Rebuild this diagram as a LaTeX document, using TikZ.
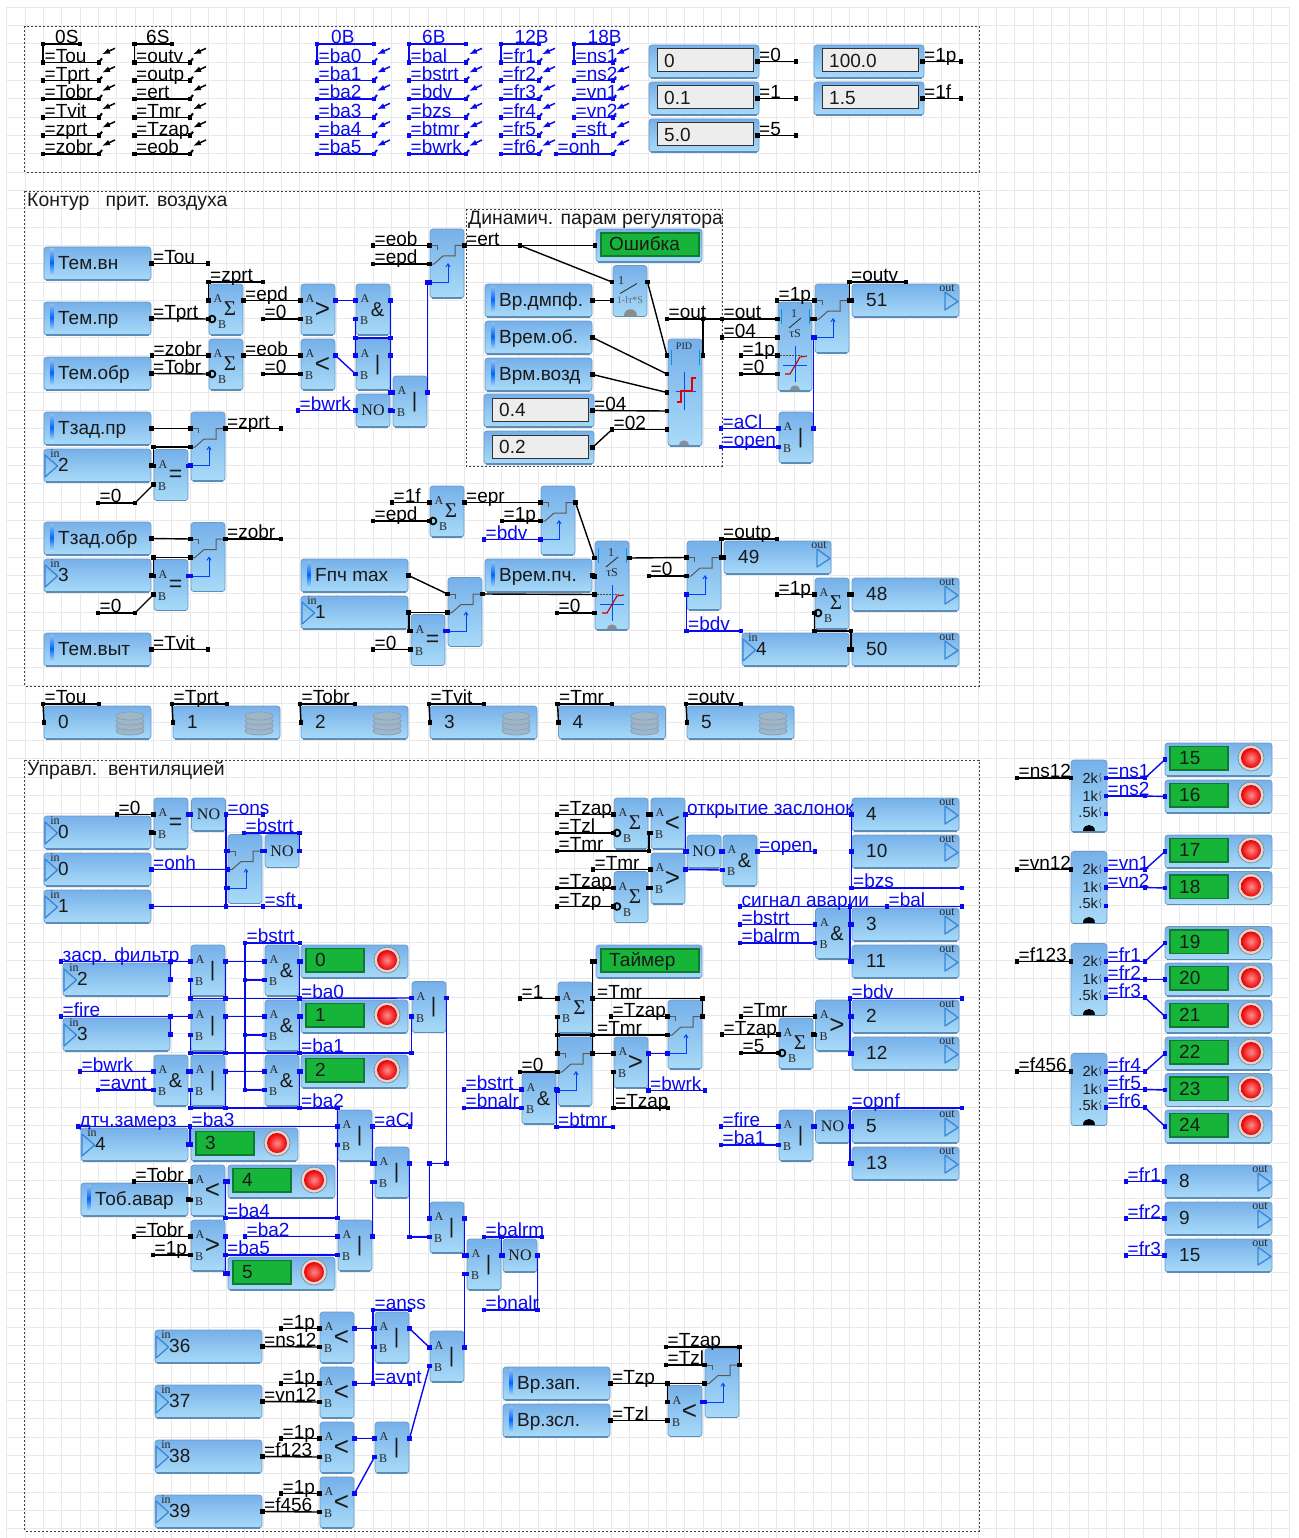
\documentclass[tikz,border=0pt]{standalone}
\usepackage{fontspec}
\setmainfont{Liberation Sans}
\newfontfamily\ser{Liberation Serif}
\usetikzlibrary{arrows.meta,calc}
\definecolor{blkT}{HTML}{76B0E9}
\definecolor{blkB}{HTML}{A9DBF8}
\definecolor{blkE}{HTML}{6A9CCB}
\definecolor{blkD}{HTML}{5C8DB8}
\definecolor{wb}{HTML}{0A0AF0}
\definecolor{grn}{HTML}{17B43A}
\definecolor{grnD}{HTML}{107A30}
\definecolor{tri}{HTML}{3A86D8}
\definecolor{gridc}{HTML}{E9E9E9}
\definecolor{dbF}{HTML}{9FB6C8}
\definecolor{dbE}{HTML}{85A0B5}
\newcounter{wn}
\newcommand\fs{\fontsize{19}{19}\selectfont}
\tikzset{
 gridl/.style={gridc,line width=1pt},
 frame/.style={draw=black!75,line width=.7pt,dash pattern=on 2pt off 2pt},
 blockbox/.style={rectangle,rounded corners=3pt,draw=blkE,line width=.8pt,top color=blkT,bottom color=blkB,anchor=north west,inner sep=0pt,outer sep=0pt},
 edgeb/.style={blkD,line width=1.3pt},
 kwire/.style={black,line width=1.4pt},
 bwire/.style={wb,line width=1.4pt},
 Kwire/.style={kwire},
 Bwire/.style={bwire},
 kd/.style={rectangle,fill=black,inner sep=0pt,minimum size=4.6pt},
 bd/.style={rectangle,fill=wb,inner sep=0pt,minimum size=4.6pt},
 kl/.style={font=\fs,text=black,inner sep=0pt,pos=0,anchor=base west,xshift=1pt,yshift=.3pt},
 bl/.style={font=\fs,text=wb,inner sep=0pt,pos=0,anchor=base west,xshift=1pt,yshift=.3pt},
 txt/.style={font=\fs,text=black!90,inner sep=0pt,anchor=base west},
 hdr/.style={font=\fontsize{19.4}{19.4}\selectfont,text=black!90,inner sep=0pt,anchor=base west},
 tiny/.style={font=\ser\fontsize{12}{12}\selectfont,text=black!85,inner sep=0pt},
 sym/.style={text=black!90,inner sep=0pt},
 tmark/.style={tri,line width=1.3pt,line join=round},
 swl/.style={black!65,line width=1pt},
 ctl/.style={blue!75!cyan,line width=.9pt},
}
% wires
\newcommand\Kw[2]{\draw[kwire] (#1) node[kd]{} -- (#2) node[kd]{};}
\newcommand\Bw[2]{\draw[bwire] (#1) node[bd]{} -- (#2) node[bd]{};}
\newcommand\KL[4][]{\stepcounter{wn}\draw[kwire] (#3) node[kd]{} -- node[kl,#1] (L\arabic{wn}) {#2} (#4) node[kd]{};}
\newcommand\BL[4][]{\stepcounter{wn}\draw[bwire] (#3) node[bd]{} -- node[bl,#1] (L\arabic{wn}) {#2} (#4) node[bd]{};}
\newcommand\KH[4][]{\KL[#1]{#2}{#3,0 |- #4}{#4}}
\newcommand\BH[4][]{\BL[#1]{#2}{#3,0 |- #4}{#4}}
\newcommand\KR[4][]{\KL[#1]{#2}{#3}{#4,0 |- #3}}
\newcommand\BR[4][]{\BL[#1]{#2}{#3}{#4,0 |- #3}}
% blocks
\newcommand\blockat[5]{%
 \node[blockbox,minimum width=#4pt,minimum height=#5pt] (#1) at (#2,#3) {};
 \draw[edgeb] (#2+2,#3+#5) -- (#2+#4-2,#3+#5);}
\newcommand\hump[4]{\fill[#3] (#1-#4,#2) .. controls (#1-#4,#2-1.3*#4) and (#1+#4,#2-1.3*#4) .. (#1+#4,#2) -- cycle;}
\newcommand\sSig{\ser\fontsize{21}{21}\selectfont Σ}
\newcommand\sLt{\fontsize{26}{26}\selectfont <}
\newcommand\sGt{\fontsize{26}{26}\selectfont >}
\newcommand\sEq{\fontsize{23}{23}\selectfont =}
\newcommand\sAmp{\fontsize{20}{20}\selectfont \&}
\newcommand\sOr{\fontsize{21}{21}\selectfont |}
\newcommand\gatebk[4]{%
 \blockat{#1}{#2}{#3}{34}{51}
 \coordinate (#1-A) at (#2-0.5,#3+16.5);
 \coordinate (#1-B) at (#2-0.5,#3+35);
 \coordinate (#1-O) at (#2+34.5,#3+16.5);
 \node[tiny] (#1-la) at (#2+9,#3+15) {A};
 \node[tiny] (#1-lb) at (#2+8,#3+37) {B};
 \node[sym] (#1-s) at (#2+21.5,#3+26) {#4};}
\newcommand\sumbk[3]{%
 \blockat{#1}{#2}{#3}{34}{51}
 \coordinate (#1-A) at (#2-0.5,#3+16.5);
 \coordinate (#1-B) at (#2-0.5,#3+35);
 \coordinate (#1-O) at (#2+34.5,#3+16.5);
 \node[tiny] (#1-la) at (#2+9,#3+15) {A};
 \node[tiny] (#1-lb) at (#2+13,#3+41) {B};
 \node[sym] (#1-s) at (#2+21,#3+25) {\sSig};
 \draw[black,line width=1.7pt] (#2+3,#3+35) circle[radius=3.4pt];}
\newcommand\noblk[3]{%
 \blockat{#1}{#2}{#3}{34}{33}
 \coordinate (#1-I) at (#2-0.5,#3+16.5);
 \coordinate (#1-O) at (#2+34.5,#3+16.5);
 \node[sym,font=\ser\fontsize{16}{16}\selectfont] (#1-s) at (#2+17,#3+16.5) {NO};}
\newcommand\swbk[3]{%
 \blockat{#1}{#2}{#3}{34}{69}
 \coordinate (#1-1) at (#2-0.5,#3+16.5);
 \coordinate (#1-2) at (#2-0.5,#3+35);
 \coordinate (#1-C) at (#2-0.5,#3+53.5);
 \coordinate (#1-O) at (#2+34.5,#3+16.5);
 \draw[swl] (#2+1,#3+16.5) -- (#2+7,#3+16.5) -- (#2+7,#3+21);
 \draw[swl] (#2+1,#3+35) -- (#2+4,#3+35) -- (#2+13,#3+27) -- (#2+25,#3+27) -- (#2+25,#3+16.5) -- (#2+33,#3+16.5);
 \draw[ctl,-{Straight Barb[length=3pt,width=4pt]}] (#2,#3+53.5) -- (#2+18,#3+53.5) -- (#2+18,#3+34);}
\newcommand\lngbk[4]{%
 \blockat{#1}{#2}{#3}{107}{33}
 \coordinate (#1-O) at (#2+107.5,#3+16.5);
 \shade[top color=blkT!80,bottom color=blkB!90,middle color=blue!60!cyan] (#2+6.5,#3+2) rectangle (#2+9.5,#3+29);
 \node[txt] (#1-t) at (#2+14,#3+22.7) {#4};}
\newcommand\inbk[4]{%
 \blockat{#1}{#2}{#3}{107}{33}
 \coordinate (#1-O) at (#2+107.5,#3+16.5);
 \draw[tmark] (#2+1,#3+6) -- (#2+13.5,#3+17) -- (#2+1,#3+28) -- cycle;
 \node[tiny] (#1-i) at (#2+11,#3+5) {in};
 \node[txt] (#1-t) at (#2+14,#3+22.5) {#4};}
\newcommand\outbk[4]{%
 \blockat{#1}{#2}{#3}{107}{33}
 \coordinate (#1-I) at (#2-0.5,#3+16.5);
 \draw[tmark] (#2+93,#3+8) -- (#2+106,#3+17.5) -- (#2+93,#3+26) -- cycle;
 \node[tiny] (#1-i) at (#2+95,#3+4) {out};
 \node[txt] (#1-t) at (#2+14,#3+22) {#4};}
\newcommand\cyl[2]{\draw[dbE,fill=dbF,line width=.7pt] (#1,#2) ellipse[x radius=14pt,y radius=4pt];}
\newcommand\dbbk[4]{%
 \blockat{#1}{#2}{#3}{107}{33}
 \coordinate (#1-I) at (#2,#3+16.5);
 \fill[dbF] (#2+72,#3+11) rectangle (#2+100,#3+25);
 \cyl{#2+86}{#3+25}\cyl{#2+86}{#3+20}\cyl{#2+86}{#3+15}\cyl{#2+86}{#3+10}
 \node[txt] (#1-t) at (#2+14,#3+22) {#4};}
\newcommand\cstbk[4]{%
 \blockat{#1}{#2}{#3}{110}{33}
 \coordinate (#1-O) at (#2+108.5,#3+16.5);
 \draw[black!80,fill=black!7,line width=1pt] (#2+8,#3+4) rectangle (#2+104,#3+27);
 \node[txt] (#1-t) at (#2+15,#3+22.7) {#4};}
\newcommand\lampbk[4]{%
 \blockat{#1}{#2}{#3}{107}{33}
 \coordinate (#1-I) at (#2,#3+16.5);
 \draw[grnD,fill=grn,line width=1.2pt] (#2+5,#3+3.5) rectangle (#2+63,#3+27);
 \draw[black!45,fill=black!15,line width=.8pt] (#2+86,#3+15) circle[radius=13pt];
 \shade[inner color=red!45!white,outer color=red!92!black] (#2+86,#3+15) circle[radius=10pt];
 \node[txt] (#1-t) at (#2+14,#3+21.5) {#4};}
\newcommand\glabbk[4]{%
 \blockat{#1}{#2}{#3}{106}{33}
 \coordinate (#1-I) at (#2-1,#3+16.5);
 \draw[grnD,fill=grn,line width=1.2pt] (#2+5,#3+4) rectangle (#2+103,#3+27);
 \node[txt] (#1-t) at (#2+13,#3+21.7) {#4};}
\newcommand\intbk[3]{%
 \blockat{#1}{#2}{#3}{34}{89}
 \coordinate (#1-1) at (#2-0.5,#3+17);
 \coordinate (#1-2) at (#2-0.5,#3+35.5);
 \coordinate (#1-3) at (#2-0.5,#3+53.5);
 \coordinate (#1-4) at (#2-0.5,#3+72);
 \coordinate (#1-O) at (#2+34.5,#3+17);
 \node[tiny] (#1-n) at (#2+16,#3+12) {1};
 \draw[black!80,line width=.9pt] (#2+11,#3+26) -- (#2+23,#3+16);
 \node[tiny] (#1-d) at (#2+17,#3+32) {τS};
 \draw[cyan!80!blue,line width=.6pt] (#2+3,#3+7) -- (#2+3,#3+22) (#2+31,#3+7) -- (#2+31,#3+22);
 \draw[black!70,line width=.5pt,densely dotted] (#2,#3+53.5) -- (#2+24,#3+53.5);
 \draw[blue!70!cyan,line width=.9pt] (#2+17,#3+44) -- (#2+17,#3+80) (#2+5,#3+63) -- (#2+29,#3+63);
 \draw[red!80!black,line width=1.1pt] (#2+7,#3+72) -- (#2+12,#3+72) -- (#2+22,#3+55) -- (#2+29,#3+54);
 \hump{#2+17}{#3+88}{black!45}{5}}
\newcommand\pidbk[3]{%
 \blockat{#1}{#2}{#3}{34}{107}
 \coordinate (#1-1) at (#2-1,#3+16.5);
 \coordinate (#1-2) at (#2-1,#3+35);
 \coordinate (#1-3) at (#2-1,#3+53.5);
 \coordinate (#1-4) at (#2-1,#3+72);
 \coordinate (#1-5) at (#2-1,#3+90.5);
 \coordinate (#1-O) at (#2+35,#3+16.5);
 \node[tiny,font=\ser\fontsize{10}{10}\selectfont] (#1-n) at (#2+16,#3+7) {PID};
 \draw[cyan!80!blue,line width=.6pt] (#2+3,#3+11) -- (#2+3,#3+26) (#2+31,#3+11) -- (#2+31,#3+26);
 \draw[blue!70!cyan,line width=.9pt] (#2+16,#3+33) -- (#2+16,#3+71) (#2+8,#3+52) -- (#2+28,#3+52);
 \draw[red!90!black,line width=1.1pt] (#2+9,#3+63) -- (#2+13,#3+63) -- (#2+13,#3+52) -- (#2+24,#3+52) -- (#2+24,#3+39) -- (#2+28,#3+39);
 \hump{#2+16}{#3+106}{black!45}{5}}
\newcommand\filtbk[3]{%
 \blockat{#1}{#2}{#3}{34}{51}
 \coordinate (#1-1) at (#2-1,#3+16.5);
 \coordinate (#1-2) at (#2-1,#3+35);
 \coordinate (#1-O) at (#2+34.5,#3+16.5);
 \node[tiny] (#1-n) at (#2+8,#3+15) {1};
 \draw[black!80,line width=.9pt] (#2+7,#3+28) -- (#2+24,#3+18);
 \node[tiny,font=\ser\fontsize{10}{10}\selectfont,text=black!60] (#1-d) at (#2+17,#3+35) {1-lт*S};
 \hump{#2+17}{#3+50}{black!45}{6.5}}
\newcommand\splbk[3]{%
 \blockat{#1}{#2}{#3}{36}{72}
 \coordinate (#1-I) at (#2,#3+18);
 \coordinate (#1-a) at (#2+35,#3+18);
 \coordinate (#1-b) at (#2+35,#3+36);
 \coordinate (#1-c) at (#2+35,#3+54);
 \fill[blue] ($(#1-c)+(-2,-2)$) rectangle ($(#1-c)+(2,2)$);
 \node[sym,font=\fontsize{14.5}{14.5}\selectfont,anchor=east] (#1-ta) at (#2+27,#3+18) {2k};
 \node[sym,font=\fontsize{14.5}{14.5}\selectfont,anchor=east] (#1-tb) at (#2+27,#3+36) {1k};
 \node[sym,font=\fontsize{14.5}{14.5}\selectfont,anchor=east] (#1-tc) at (#2+27,#3+52) {.5k};
 \foreach \dy in {18,36,52}{\draw[black!70,line width=.5pt] (#2+30,#3+\dy-5) -- (#2+28.5,#3+\dy-2) -- (#2+30,#3+\dy+1) -- (#2+29,#3+\dy+4);}
 \hump{#2+18}{#3+71}{black}{6}}
% top table rows
\newcommand\trow[5]{%
 \csname #1L\endcsname{#2}{#3,#5}{#4,#5}
 \draw[#1wire,line width=1.5pt,-{Latex[length=8pt,width=6pt]}] ([shift={(16,-14)}]#4,#5) -- ([shift={(3,-8)}]#4,#5);
 \draw[#1wire,line width=2pt] (#4,#5) -- ([shift={(3,-4)}]#4,#5);}
\newcommand\tcol[7]{% x0 x1 hx1 hoff head color rows
 \csname #6L\endcsname[xshift=#4pt]{#5}{#1,44}{#3,44}
 \csname #6w\endcsname{#1,44}{#1,62.33}
 \foreach \lab [count=\i] in {#7} {\pgfmathsetmacro\ry{44+18.33*\i}\trow{#6}{\lab}{#1}{#2}{\ry}}}
\newcommand\dbrow[5]{%
 \dbbk{#1}{#2}{706}{#3}
 \coordinate (#1-j) at (#2-1,704);
 \Kw{#1-I}{#1-j}
 \KR{#4}{#1-j}{#5}}
\newcommand\fan[3]{\coordinate (m#3) at (1145,0 |- #2); \BL{#1}{#2}{m#3} \Bw{m#3}{#3-I}}
\begin{document}
\begin{tikzpicture}[x=1pt,y=-1pt]
\useasboundingbox (0,0) rectangle (1298,1538);
\fill[white] (0,0) rectangle (1298,1538);
\foreach \i in {0,...,70}{\draw[gridl] ({6.7+18.33*\i},7.3) -- ({6.7+18.33*\i},1538);}
\foreach \i in {0,...,83}{\draw[gridl] (6.7,{7.3+18.33*\i}) -- (1290,{7.3+18.33*\i});}
\draw[frame] (24.7,26) rectangle (979,172);
\draw[frame] (24.7,191) rectangle (979,686);
\draw[frame] (24.7,760) rectangle (979,1531);
\draw[frame] (466,209) rectangle (722,466);
\node[hdr] (hd1) at (27,206.7) {Контур\ \ \ прит. воздуха};
\node[hdr] (hd2) at (468,225) {Динамич. парам регулятора};
\node[hdr] (hd3) at (27,775.7) {Управл.\ \ вентиляцией};
% ---------- top tables
\tcol{43}{99}{80}{10.5}{0S}{K}{=Tou,=Tprt,=Tobr,=Tvit,=zprt,=zobr}
\tcol{134.5}{190}{172}{10}{6S}{K}{=outv,=outp,=ert,=Tmr,=Tzap,=eob}
\tcol{317}{374}{374}{12.5}{0B}{B}{=ba0,=ba1,=ba2,=ba3,=ba4,=ba5}
\tcol{409}{466}{466}{11.5}{6B}{B}{=bal,=bstrt,=bdv,=bzs,=btmr,=bwrk}
\tcol{501}{539}{539}{12}{12B}{B}{=fr1,=fr2,=fr3,=fr4,=fr5,=fr6}
\tcol{574}{613}{613}{12}{18B}{B}{=ns1,=ns2,=vn1,=vn2,=sft}
\trow{B}{=onh}{556}{613}{153.98}
\cstbk{k0}{649}{45}{0}
\cstbk{k1}{649}{82}{0.1}
\cstbk{k5}{649}{119}{5.0}
\cstbk{k100}{814}{45}{100.0}
\cstbk{k15}{814}{82}{1.5}
\KR{=0}{k0-O}{796}
\KR{=1}{k1-O}{796}
\KR{=5}{k5-O}{796}
\KR{=1p}{k100-O}{961}
\KR{=1f}{k15-O}{961}
% ---------- section 2 blocks
\lngbk{tvn}{44}{247}{Тем.вн}
\lngbk{tpr}{44}{302}{Тем.пр}
\lngbk{tob}{44}{357}{Тем.обр}
\lngbk{tzp}{44}{412}{Тзад.пр}
\inbk{i2}{44}{449}{2}
\lngbk{tzo}{44}{522}{Тзад.обр}
\inbk{i3}{44}{559}{3}
\lngbk{tvy}{44}{633}{Тем.выт}
\sumbk{s1}{209}{284}
\sumbk{s2}{209}{339}
\gatebk{cg}{301}{284}{\sGt}
\gatebk{cl}{301}{339}{\sLt}
\gatebk{an}{356}{284}{\sAmp}
\gatebk{o1}{356}{339}{\sOr}
\noblk{n1}{356}{394}
\gatebk{o2}{393}{376}{\sOr}
\swbk{sw1}{430}{229}
\swbk{sw2}{191}{412}
\gatebk{eq1}{154}{449.5}{\sEq}
\swbk{sw3}{191}{522.5}
\gatebk{eq2}{154}{559.5}{\sEq}
\glabbk{osh}{596}{229}{Ошибка}
\filtbk{flt}{613}{265.5}
\lngbk{dmp}{485}{284}{Вр.дмпф.}
\lngbk{vob}{485}{321}{Врем.об.}
\lngbk{vvz}{485}{358}{Врм.возд}
\cstbk{c04}{484}{394}{0.4}
\cstbk{c02}{484}{431}{0.2}
\pidbk{pid}{668}{339}
\intbk{int}{778}{302}
\swbk{sw4}{815}{284}
\gatebk{or3}{779}{412}{\sOr}
\outbk{o51}{852}{284}{51}
\sumbk{s3}{430}{486}
\swbk{sw5}{541}{486}
\intbk{int2}{595}{541}
\lngbk{vpc}{485}{559}{Врем.пч.}
\lngbk{fpc}{301}{559}{Fпч max}
\inbk{i1}{301}{596}{1}
\swbk{sw6}{448}{577.5}
\gatebk{eq3}{411}{614.5}{\sEq}
\swbk{sw7}{687}{541}
\outbk{o49}{724}{541}{49}
\sumbk{s4}{815}{578}
\outbk{o48}{852}{578}{48}
\inbk{i4}{742}{633}{4}
\outbk{o50}{852}{633}{50}
% ---------- section 2 wires
\KR{=Tou}{tvn-O}{208}
\KL{=Tprt}{tpr-O}{s1-B}
\KH{=zobr}{152}{s2-A}
\KL{=Tobr}{tob-O}{s2-B}
\coordinate (z1) at (209,282);
\Kw{s1-A}{s1-A |- z1}
\KR{=zprt}{s1-A |- z1}{263}
\KL{=epd}{s1-O}{cg-A}
\KH{=0}{263}{cg-B}
\KL{=eob}{s2-O}{cl-A}
\KH{=0}{263}{cl-B}
\Bw{cg-O}{an-A}
\Bw{cl-O}{o1-B}
\coordinate (j1) at (355.5,338);
\Bw{an-B}{o1-A}
\Bw{j1}{an-O |- j1}
\Bw{an-O}{an-O |- o2-A}
\Bw{o1-O}{an-O |- o1-O}
\Bw{an-O |- o2-A}{o2-A}
\BH{=bwrk}{298}{n1-I}
\Bw{n1-O}{o2-B}
\Bw{o2-O}{o2-O |- sw1-C}
\Bw{o2-O |- sw1-C}{sw1-C}
\KH{=eob}{373}{sw1-1}
\KH{=epd}{373}{sw1-2}
\Kw{tzp-O}{sw2-1}
\KR{=zprt}{sw2-O}{281}
\Kw{i2-O}{eq1-A}
\Kw{eq1-A}{eq1-A |- sw2-2}
\Kw{eq1-A |- sw2-2}{sw2-2}
\coordinate (b1) at (135,503);
\KH{=0}{98}{b1}
\Kw{b1}{eq1-B}
\Bw{eq1-O}{sw2-C}
\Kw{tzo-O}{sw3-1}
\KR{=zobr}{sw3-O}{281}
\Kw{i3-O}{eq2-A}
\Kw{eq2-A}{eq2-A |- sw3-2}
\Kw{eq2-A |- sw3-2}{sw3-2}
\coordinate (b2) at (135,613);
\KH{=0}{98}{b2}
\Kw{b2}{eq2-B}
\Bw{eq2-O}{sw3-C}
\KR{=Tvit}{tvy-O}{208}
% dynamics
\KL{=ert}{sw1-O}{osh-I}
\coordinate (j3) at (520,0 |- sw1-O);
\Kw{j3}{flt-1}
\Kw{dmp-O}{flt-2}
\Kw{flt-O}{pid-1}
\Kw{vob-O}{pid-2}
\Kw{vvz-O}{pid-3}
\KL{=04}{c04-O}{pid-4}
\coordinate (j4) at (612,0 |- pid-5);
\Kw{c02-O}{j4}
\KL{=02}{j4}{pid-5}
\coordinate (j5) at (667,319);
\coordinate (j7) at (722,319);
\KL{=out}{j5}{pid-O |- j5}
\Kw{pid-O}{pid-O |- j5}
\Kw{pid-O |- j5}{j7}
\KL{=out}{j7}{int-1}
\KH{=04}{722}{int-2}
\KH{=1p}{741}{int-3}
\KH{=0}{741}{int-4}
\KH{=1p}{777}{sw4-1}
\Kw{int-O}{sw4-2}
\BH{=aCl}{721}{or3-A}
\BH{=open}{721}{or3-B}
\Bw{or3-O}{or3-O |- sw4-C}
\Bw{or3-O |- sw4-C}{sw4-C}
\Kw{sw4-O}{o51-I}
\coordinate (j8) at (850,282);
\Kw{sw4-O}{sw4-O |- j8}
\KR{=outv}{sw4-O |- j8}{906}
% mid
\KH{=1f}{392}{s3-A}
\KH{=epd}{373}{s3-B}
\KL{=epr}{s3-O}{sw5-1}
\KH{=1p}{502}{sw5-2}
\BH{=bdv}{484}{sw5-C}
\Kw{sw5-O}{int2-1}
\Kw{vpc-O}{int2-2}
\Kw{fpc-O}{sw6-1}
\Kw{i1-O}{sw6-2}
\coordinate (j9) at (409,0 |- i1-O);
\Kw{j9}{j9 |- eq3-A}
\Kw{j9 |- eq3-A}{eq3-A}
\KH{=0}{373}{eq3-B}
\Bw{eq3-O}{sw6-C}
\Kw{sw6-O}{int2-3}
\KH{=0}{557}{int2-4}
\Kw{int2-O}{sw7-1}
\KH{=0}{649}{sw7-2}
\coordinate (j10) at (686.5,631);
\Bw{sw7-C}{j10}
\BR{=bdv}{j10}{741}
\coordinate (j11) at (722,539);
\Kw{sw7-O}{o49-I}
\Kw{sw7-O}{sw7-O |- j11}
\KR{=outp}{sw7-O |- j11}{777}
\KH{=1p}{777}{s4-A}
\Kw{s4-O}{o48-I}
\Kw{i4-O}{o50-I}
\coordinate (j12) at (851,631);
\Kw{s4-B}{s4-B |- j12}
\Kw{s4-B |- j12}{j12}
\Kw{j12}{j12 |- o50-I}
% ---------- db row
\dbrow{d0}{44}{0}{=Tou}{99}
\dbrow{d1}{173}{1}{=Tprt}{227}
\dbrow{d2}{301}{2}{=Tobr}{355}
\dbrow{d3}{430}{3}{=Tvit}{484}
\dbrow{d4}{558.5}{4}{=Tmr}{612}
\dbrow{d5}{687}{5}{=outv}{741}
% ---------- section 3 blocks
\gatebk{e5}{154}{798}{\sEq}
\noblk{n5}{191.5}{798}
\inbk{i01}{44}{816}{0}
\swbk{sw8}{228}{834.5}
\noblk{n6}{265}{834.5}
\inbk{i02}{44}{853}{0}
\inbk{i11}{44}{890}{1}
\gatebk{p1}{191}{945}{\sOr}
\gatebk{p2}{191}{1000}{\sOr}
\gatebk{p3}{191}{1055}{\sOr}
\gatebk{q1}{265}{945}{\sAmp}
\gatebk{q2}{265}{1000}{\sAmp}
\gatebk{q3}{265}{1055}{\sAmp}
\gatebk{q0}{154}{1055}{\sAmp}
\lampbk{l0}{301}{945}{0}
\lampbk{l1}{301}{1000}{1}
\lampbk{l2}{301}{1055}{2}
\inbk{i21}{63}{963}{2}
\inbk{i31}{63}{1018}{3}
\gatebk{o4g}{412}{981.5}{\sOr}
\inbk{i41}{81}{1128}{4}
\lampbk{l3}{191}{1128}{3}
\gatebk{g10}{338}{1110}{\sOr}
\gatebk{g11}{191}{1165}{\sLt}
\lngbk{tab}{81}{1183}{Тоб.авар}
\lampbk{l4}{228}{1165}{4}
\gatebk{g12}{191}{1220}{\sGt}
\lampbk{l5}{228}{1257}{5}
\gatebk{g13}{338}{1220}{\sOr}
\gatebk{g14}{375}{1147}{\sOr}
\gatebk{g15}{430}{1202}{\sOr}
\gatebk{g16}{467}{1239}{\sOr}
\noblk{n7}{503}{1239}
\gatebk{g17}{430}{1331}{\sOr}
\gatebk{g18}{375}{1312}{\sOr}
\gatebk{g19}{375}{1422}{\sOr}
\gatebk{c1}{320}{1312}{\sLt}
\gatebk{c2}{320}{1367}{\sLt}
\gatebk{c3}{320}{1422}{\sLt}
\gatebk{c4}{320}{1477}{\sLt}
\inbk{i36}{155}{1330}{36}
\inbk{i37}{155}{1385}{37}
\inbk{i38}{155}{1440}{38}
\inbk{i39}{155}{1495}{39}
\sumbk{s5}{614}{798}
\gatebk{c5}{651}{798}{\sLt}
\gatebk{c6}{651}{853}{\sGt}
\sumbk{s6}{614}{871.5}
\noblk{n8}{687}{835}
\gatebk{a8}{723}{835}{\sAmp}
\outbk{o4}{852}{798}{4}
\outbk{o10}{852}{835}{10}
\outbk{o3}{852}{908}{3}
\outbk{o11}{852}{945}{11}
\outbk{o2}{852}{1000}{2}
\outbk{o12}{852}{1037}{12}
\outbk{o5}{852}{1110}{5}
\outbk{o13}{852}{1147}{13}
\gatebk{a9}{815.5}{908}{\sAmp}
\gatebk{c7}{815.5}{1000}{\sGt}
\sumbk{s7}{779}{1018}
\gatebk{r1}{779}{1110}{\sOr}
\noblk{n9}{815.5}{1110}
\gatebk{s8}{558}{982}{\sSig}
\glabbk{tmr}{596}{945}{Таймер}
\swbk{sw9}{558}{1037}
\swbk{sw10}{668}{1000}
\gatebk{c8}{614}{1037}{\sGt}
\gatebk{a10}{522}{1073}{\sAmp}
\lngbk{vz}{503}{1367}{Вр.зап.}
\lngbk{vs}{503}{1404}{Вр.зсл.}
\gatebk{c9}{668}{1385.5}{\sLt}
\swbk{sw11}{705}{1348.5}
% ---------- section 3 wires: ventilation start
\KH{=0}{117}{e5-A}
\Kw{i01-O}{e5-B}
\Bw{e5-O}{n5-I}
\BR{=ons}{n5-O}{263}
\BL{=onh}{i02-O}{sw8-2}
\coordinate (v0) at (263,0 |- i11-O);
\Bw{i11-O}{v0}
\BR{=sft}{v0}{300}
\Bw{n5-O}{n5-O |- i11-O}
\Bw{n5-O |- sw8-1}{sw8-1}
\Bw{n5-O |- sw8-C}{sw8-C}
\Bw{sw8-O}{n6-I}
\coordinate (v1a) at (244,833);
\coordinate (v1b) at (n6-O |- v1a);
\BL{=bstrt}{v1a}{v1b}
\Bw{n6-O}{v1b}
% filter group
\coordinate (fb) at (245,943);
\coordinate (fe) at (300,943);
\BL{=bstrt}{fb}{fe}
\Bw{fb}{fb |- q3-B}
\Bw{fb |- q1-B}{q1-B}
\Bw{fb |- q2-B}{q2-B}
\Bw{fb |- q3-B}{q3-B}
\Bw{p1-O}{q1-A}
\Bw{p2-O}{q2-A}
\Bw{p3-O}{q3-A}
\Bw{q1-O}{l0-I}
\Bw{q2-O}{l1-I}
\Bw{q3-O}{l2-I}
\BH{засp. фильтр}{61}{p1-A}
\Bw{i21-O}{i21-O |- p1-A}
\BH{=fire}{61}{p2-A}
\Bw{i31-O}{i31-O |- p2-A}
\BH{=bwrk}{80}{q0-A}
\BH{=avnt}{98}{q0-B}
\Bw{q0-O}{p3-A}
\coordinate (r0) at (190,998.3);
\coordinate (r1y) at (190,1053);
\coordinate (r2) at (190,1108);
\coordinate (r3) at (190,1218);
\Bw{p1-B}{p1-B |- r0}
\Bw{p2-B}{p2-B |- r1y}
\Bw{p3-B}{p3-B |- r2}
\Bw{p1-O}{p1-O |- r0}
\Bw{p2-O}{p2-O |- r1y}
\Bw{p3-O}{p3-O |- r2}
\Bw{q1-O}{q1-O |- r0}
\Bw{q2-O}{q2-O |- r1y}
\Bw{q3-O}{q3-O |- r2}
\Bw{p1-B |- r0}{q1-O |- r0}
\Bw{p2-B |- r1y}{q2-O |- r1y}
\Bw{p3-B |- r2}{q3-O |- r2}
\BL{=ba0}{q1-O |- r0}{o4g-A}
\BL{=ba1}{q2-O |- r1y}{o4g-B |- r1y}
\Bw{o4g-B}{o4g-B |- r1y}
\BL{=ba2}{q3-O |- r2}{g10-A |- r2}
\Bw{g10-A |- r2}{g10-A |- r3}
\Bw{g10-B}{g10-B}
\coordinate (y3) at (190,0 |- g10-A);
\BH{дтч.замерз}{78}{y3}
\BL{=ba3}{y3}{g10-A}
\Bw{y3}{y3 |- l3-I}
\Bw{i41-O}{l3-I}
\KH{=Tobr}{134}{g11-A}
\Kw{tab-O}{g11-B}
\Bw{g11-O}{l4-I}
\Bw{g11-O}{g11-O |- r3}
\BL{=ba4}{g11-O |- r3}{g10-A |- r3}
\KH{=Tobr}{134}{g12-A}
\KH{=1p}{153}{g12-B}
\Bw{g12-O}{g12-O |- l5-I}
\Bw{g12-O |- l5-I}{l5-I}
\BH{=ba2}{245}{g13-A}
\BL{=ba5}{g12-O |- g13-B}{g13-B}
\BR{=aCl}{g10-O}{410}
\Bw{g10-O}{g10-O |- g14-A}
\Bw{g10-O |- g14-A}{g14-A}
\Bw{g13-O}{g13-O |- g14-B}
\Bw{g13-O |- g14-B}{g14-B}
\Bw{g14-O}{g14-O |- g15-B}
\Bw{g14-O |- g15-B}{g15-B}
\Bw{g15-A}{g15-A |- g14-O}
\Bw{g15-A |- g14-O}{o4g-O |- g14-O}
\Bw{o4g-O}{o4g-O |- g14-O}
\Bw{g15-O}{g15-O |- g16-A}
\Bw{g15-O |- g16-A}{g16-A}
\Bw{g16-O}{n7-I}
\coordinate (u1) at (484,1237);
\coordinate (u2) at (542,1237);
\BL{=balrm}{u1}{u2}
\Bw{g16-O}{g16-O |- u1}
\coordinate (u3) at (484,1310);
\coordinate (u4) at (n7-O |- u3);
\BL{=bnalr}{u3}{u4}
\Bw{n7-O}{u4}
\Bw{g16-B}{g15-O |- g16-B}
\Bw{g15-O |- g16-B}{g15-O |- g17-O}
\Bw{g17-O}{g15-O |- g17-O}
\Bw{g18-O}{g17-A}
\Bw{g19-O}{g17-B}
\Bw{c1-O}{g18-A}
\Bw{c3-O}{g19-A}
\Bw{c4-O}{g19-B}
\coordinate (an1) at (373,1310);
\coordinate (an2) at (373,0 |- c2-O);
\BR{=anss}{an1}{410}
\Bw{c2-O}{an2}
\BR{=avnt}{an2}{410}
\Bw{an1}{an2}
\Bw{an1 |- g18-A}{g18-A}
\Bw{an1 |- g18-B}{g18-B}
\KL{=ns12}{i36-O}{c1-B}
\KL{=vn12}{i37-O}{c2-B}
\KL{=f123}{i38-O}{c3-B}
\KL{=f456}{i39-O}{c4-B}
\KH{=1p}{281}{c1-A}
\KH{=1p}{281}{c2-A}
\KH{=1p}{281}{c3-A}
\KH{=1p}{281}{c4-A}
% upper mid
\KH{=Tzap}{557}{s5-A}
\KH{=Tzl}{557}{s5-B}
\Kw{s5-O}{c5-A}
\coordinate (v1) at (649,851);
\KH{=Tmr}{557}{v1}
\Kw{v1}{v1 |- c5-B}
\Kw{v1 |- c5-B}{c5-B}
\KH{=Tmr}{593}{c6-A}
\KH{=Tzap}{557}{s6-A}
\KH{=Tzp}{557}{s6-B}
\Kw{s6-O}{c6-B}
\Bw{c5-O}{c5-O |- n8-I}
\Bw{c5-O |- n8-I}{n8-I}
\Bw{n8-O}{a8-A}
\Bw{c6-O}{a8-B}
\BR{=open}{a8-O}{815}
\BL{открытие заслонок}{c5-O}{o4-I}
\coordinate (w0) at (851,888);
\Bw{o4-I}{o4-I |- w0}
\Bw{o10-I}{o10-I}
\BR{=bzs}{o4-I |- w0}{962}
\coordinate (w1) at (740,906.5);
\coordinate (w2) at (887,906.5);
\BL{сигнал аварии}{w1}{w2}
\BR{=bal}{w2}{962}
\BH{=bstrt}{740}{a9-A}
\BH{=balrm}{740}{a9-B}
\Bw{a9-O}{o3-I}
\Bw{a9-O |- w1}{a9-O |- o11-I}
\Bw{a9-O |- o11-I}{o11-I}
\coordinate (w3) at (850,998.3);
\BR{=bdv}{w3}{962}
\Bw{w3}{w3 |- o12-I}
\Bw{w3 |- o12-I}{o12-I}
\Bw{c7-O}{o2-I}
\KH{=Tmr}{741}{c7-A}
\Kw{s7-O}{c7-B}
\KH{=Tzap}{722}{s7-A}
\KH{=5}{741}{s7-B}
\BH{=fire}{721}{r1-A}
\BH{=ba1}{721}{r1-B}
\Bw{r1-O}{n9-I}
\Bw{n9-O}{o5-I}
\coordinate (w4) at (850,1108);
\BR{=opnf}{w4}{962}
\Bw{w4}{w4 |- o13-I}
\Bw{w4 |- o13-I}{o13-I}
% timer
\KH{=1}{520}{s8-A}
\KL[xshift=3pt]{=Tmr}{s8-O}{sw10-O |- s8-O}
\Kw{sw10-O}{sw10-O |- s8-O}
\Kw{s8-O |- tmr-I}{tmr-I}
\Kw{s8-O |- tmr-I}{sw9-O}
\KH{=Tzap}{611}{sw10-1}
\Kw{s8-B |- sw10-2}{s8-O |- sw10-2}
\KL[xshift=3pt]{=Tmr}{s8-O |- sw10-2}{sw10-2}
\Kw{s8-B}{sw9-1}
\Kw{sw9-O}{c8-A}
\coordinate (w5) at (612,1108);
\Kw{c8-B}{c8-B |- w5}
\KR{=Tzap}{c8-B |- w5}{668}
\Bw{c8-O}{sw10-C}
\Bw{c8-O}{c8-O |- sw9-C}
\BR{=bwrk}{c8-O |- sw9-C}{705}
\KH{=0}{520}{sw9-2}
\BH{=bstrt}{464}{a10-A}
\BH{=bnalr}{464}{a10-B}
\Bw{a10-O}{sw9-C}
\coordinate (w6) at (556,1127);
\Bw{a10-O}{a10-O |- w6}
\BR{=btmr}{a10-O |- w6}{613}
% bottom timer setpoints
\KL{=Tzp}{vz-O}{sw11-2}
\KL{=Tzl}{vs-O}{c9-B}
\Kw{c9-A}{c9-A |- vz-O}
\Bw{c9-O}{sw11-C}
\KH{=Tzl}{666}{sw11-1}
\coordinate (y1) at (666,1347);
\KR{=Tzap}{y1}{740}
\Kw{sw11-O}{sw11-O |- y1}
% ---------- right panel
\splbk{sp1}{1071}{760}
\splbk{sp2}{1071}{851.5}
\splbk{sp3}{1071}{943.5}
\splbk{sp4}{1071}{1053.5}
\lampbk{l15}{1165}{743}{15}
\lampbk{l16}{1165}{780}{16}
\lampbk{l17}{1165}{835}{17}
\lampbk{l18}{1165}{871.5}{18}
\lampbk{l19}{1165}{926.5}{19}
\lampbk{l20}{1165}{963}{20}
\lampbk{l21}{1165}{1000}{21}
\lampbk{l22}{1165}{1037}{22}
\lampbk{l23}{1165}{1073.5}{23}
\lampbk{l24}{1165}{1110}{24}
\KH{=ns12}{1017}{sp1-I}
\KH{=vn12}{1017}{sp2-I}
\KH{=f123}{1017}{sp3-I}
\KH{=f456}{1017}{sp4-I}
\fan{=ns1}{sp1-a}{l15}
\fan{=ns2}{sp1-b}{l16}
\fan{=vn1}{sp2-a}{l17}
\fan{=vn2}{sp2-b}{l18}
\fan{=fr1}{sp3-a}{l19}
\fan{=fr2}{sp3-b}{l20}
\fan{=fr3}{sp3-c}{l21}
\fan{=fr4}{sp4-a}{l22}
\fan{=fr5}{sp4-b}{l23}
\fan{=fr6}{sp4-c}{l24}
\outbk{o8}{1165}{1165}{8}
\outbk{o9}{1165}{1202}{9}
\outbk{o15}{1165}{1239}{15}
\BH{=fr1}{1126}{o8-I}
\BH{=fr2}{1126}{o9-I}
\BH{=fr3}{1126}{o15-I}
\end{tikzpicture}
\end{document}
